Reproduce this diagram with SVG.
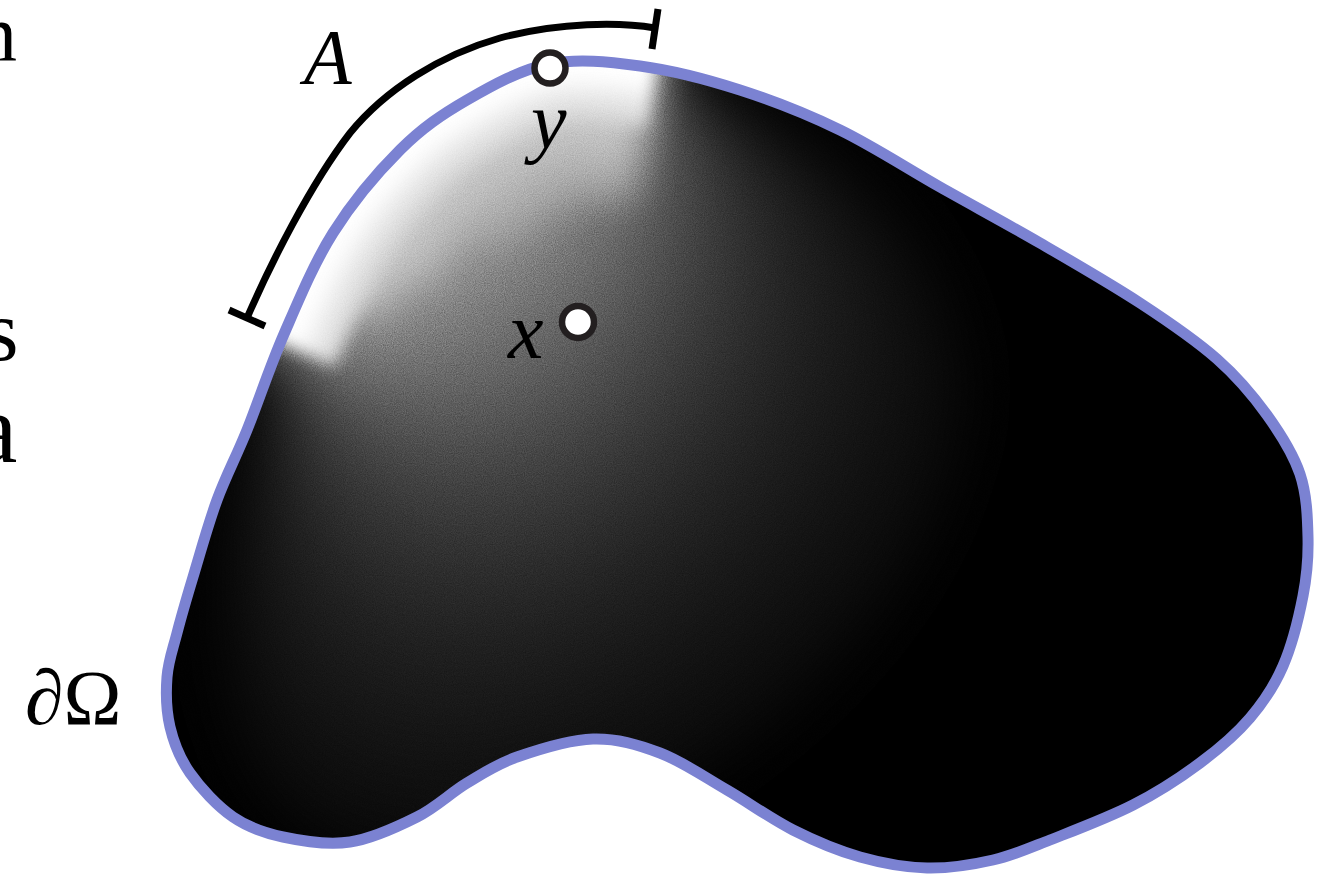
<svg xmlns="http://www.w3.org/2000/svg" width="1332" height="877" viewBox="0 0 1332 877">
<style>
.outline{fill:none;stroke:#7b82d2;stroke-width:11}
.pt{fill:#fff;stroke:#231f20;stroke-width:6.5}
.lbl{font-family:"Liberation Serif","DejaVu Serif",serif;fill:#000}
.it{font-style:italic}
.brk{fill:none;stroke:#000;stroke-width:7}
.band{fill:none;stroke-linecap:butt;stroke-linejoin:round}
</style>
<defs>
<path id="blobPath" d="M549,64 C577.8,58.3 608.2,61.7 640,66 C671.8,70.3 706.7,79.3 740,90 C773.3,100.7 806.7,113.8 840,130 C873.3,146.2 906.7,168.2 940,187 C973.3,205.8 1006.7,223.7 1040,243 C1073.3,262.3 1110.5,283.7 1140,303 C1169.5,322.3 1195.8,340.3 1217,359 C1238.2,377.7 1253.2,395.8 1267,415 C1280.8,434.2 1293.2,453.7 1300,474 C1306.8,494.3 1307.5,516.7 1308,537 C1308.5,557.3 1307.2,574.5 1303,596 C1298.8,617.5 1291.8,645.7 1283,666 C1274.2,686.3 1263.8,701.8 1250,718 C1236.2,734.2 1219.5,748.5 1200,763 C1180.5,777.5 1158,792.2 1133,805 C1108,817.8 1073.3,830.8 1050,840 C1026.7,849.2 1013.5,855.3 993,860 C972.5,864.7 949.2,868.5 927,868 C904.8,867.5 882.3,863.3 860,857 C837.7,850.7 815.2,841.2 793,830 C770.8,818.8 749.2,802.8 727,790 C704.8,777.2 682.3,761.5 660,753 C637.7,744.5 616.8,738.3 593,739 C569.2,739.7 538,749.7 517,757 C496,764.3 483.7,773 467,783 C450.3,793 436.5,807.2 417,817 C397.5,826.8 372.3,838.7 350,842 C327.7,845.3 302.5,841.2 283,837 C263.5,832.8 248.5,827.7 233,817 C217.5,806.3 200.5,788 190,773 C179.5,758 173.8,743 170,727 C166.2,711 165.8,692.7 167,677 C168.2,661.3 172.7,649.7 177,633 C181.3,616.3 186.3,599.2 193,577 C199.7,554.8 208,524.5 217,500 C226,475.5 235.8,457.7 247,430 C258.2,402.3 269.7,366.8 284,334 C298.3,301.2 313.7,263.7 333,233 C352.3,202.3 377.7,172.2 400,150 C422.3,127.8 442.2,114.3 467,100 C491.8,85.7 520.2,69.7 549,64 Z"/>
<path id="arcTail" d="M400,150 C422.3,127.8 442.2,114.3 467,100 C491.8,85.7 520.2,69.7 549,64 C577.8,58.3 608.2,61.7 640,66 L655,68.5"/>
<path id="arcA" d="M280,343 L284,334 C298.3,301.2 313.7,263.7 333,233 C352.3,202.3 377.7,172.2 400,150 C422.3,127.8 442.2,114.3 467,100 C491.8,85.7 520.2,69.7 549,64 C577.8,58.3 608.2,61.7 640,66 L655,68.5"/>
<path id="arcC" d="M306.6,282.7 C314.7,265.4 323.4,248.4 333,233 C352.3,202.3 377.7,172.2 400,150 C422.3,127.8 442.2,114.3 467,100 C491.8,85.7 520.2,69.7 549,64 C577.8,58.3 608.2,61.7 640,66 L655,68.5"/>
<path id="arcD" d="M333,233 C352.3,202.3 377.7,172.2 400,150 C422.3,127.8 442.2,114.3 467,100 C491.8,85.7 520.2,69.7 549,64 C577.8,58.3 608.2,61.7 640,66 L655,68.5"/>
<clipPath id="blobClip"><use href="#blobPath"/></clipPath>
<filter id="wide" filterUnits="userSpaceOnUse" x="-300" y="-300" width="1932" height="1477" color-interpolation-filters="sRGB"><feGaussianBlur stdDeviation="32"/></filter>
<filter id="mid" filterUnits="userSpaceOnUse" x="-300" y="-300" width="1932" height="1477" color-interpolation-filters="sRGB"><feGaussianBlur stdDeviation="18"/></filter>
<filter id="soft" filterUnits="userSpaceOnUse" x="-300" y="-300" width="1932" height="1477" color-interpolation-filters="sRGB"><feGaussianBlur stdDeviation="8"/></filter>
<filter id="grain" filterUnits="userSpaceOnUse" x="0" y="0" width="1332" height="877" color-interpolation-filters="sRGB"><feTurbulence type="fractalNoise" baseFrequency="0.9" numOctaves="2" seed="4"/><feColorMatrix type="matrix" values="1 0 0 0 0 1 0 0 0 0 1 0 0 0 0 0 0 0 0 1"/></filter>
</defs>
<rect width="1332" height="877" fill="#fff"/>
<g id="domain">
 <g clip-path="url(#blobClip)">
  <g filter="url(#wide)">
   <rect x="-250" y="-250" width="1832" height="1377" fill="#000"/>
   <path fill="#0c0c0c" d="M280,343 L225,318 L270,-20 L665,-20 L655,68 C1631.1,437.6 -94.4,1483 280,343 Z"/>
   <path fill="#131313" d="M280,343 L225,318 L270,-20 L665,-20 L655,68 C1450.2,422.1 28,1311 280,343 Z"/>
   <path fill="#1a1a1a" d="M280,343 L225,318 L270,-20 L665,-20 L655,68 C1312.5,406.7 116,1176.9 280,343 Z"/>
   <path fill="#222222" d="M280,343 L225,318 L270,-20 L665,-20 L655,68 C1178.2,396 209.7,1049.5 280,343 Z"/>
   <path fill="#2a2a2a" d="M280,343 L225,318 L270,-20 L665,-20 L655,68 C1072.1,382.2 275.8,943 280,343 Z"/>
   <path fill="#333333" d="M280,343 L225,318 L270,-20 L665,-20 L655,68 C976.7,373.3 339.7,849.4 280,343 Z"/>
   <path fill="#3c3c3c" d="M280,343 L225,318 L270,-20 L665,-20 L655,68 C903.9,364.5 382.8,760.5 280,343 Z"/>
   <path fill="#464646" d="M280,343 L225,318 L270,-20 L665,-20 L655,68 C830.9,350.7 422.5,684.5 280,343 Z"/>
   <path fill="#505050" d="M280,343 L225,318 L270,-20 L665,-20 L655,68 C773.7,337.1 447,616 280,343 Z"/>
   <path fill="#5a5a5a" d="M280,343 L225,318 L270,-20 L665,-20 L655,68 C727.1,326.2 462.7,557.9 280,343 Z"/>
   <path fill="#646464" d="M280,343 L225,318 L270,-20 L665,-20 L655,68 C687.8,315.8 469.5,506 280,343 Z"/>
   <path fill="#6e6e6e" d="M280,343 L225,318 L270,-20 L665,-20 L655,68 C652.8,288 466.8,459.2 280,343 Z"/>
   <path fill="#787878" d="M280,343 L225,318 L270,-20 L665,-20 L655,68 C625.4,260.7 459.6,419.2 280,343 Z"/>
   <path fill="#828282" d="M280,343 L225,318 L270,-20 L665,-20 L655,68 C605,232.6 446.8,385 280,343 Z"/>
   <path fill="#8c8c8c" d="M280,343 L225,318 L270,-20 L665,-20 L655,68 C591.5,203.9 429.4,356.8 280,343 Z"/>
   <path fill="#969696" d="M280,343 L225,318 L270,-20 L665,-20 L655,68 C582.9,178.6 411.7,334.7 280,343 Z"/>
   <path fill="#a0a0a0" d="M280,343 L225,318 L270,-20 L665,-20 L655,68 C579.2,154.5 392.2,318.2 280,343 Z"/>
  </g>
  <g filter="url(#mid)">
   <use href="#arcTail" class="band" stroke="#a8a8a8" stroke-width="270"/>
   <use href="#arcD" class="band" stroke="#b8b8b8" stroke-width="210"/>
   <use href="#arcC" class="band" stroke="#c8c8c8" stroke-width="160"/>
  </g>
  <g filter="url(#soft)">
   <use href="#arcA" class="band" stroke="#d8d8d8" stroke-width="120"/>
   <use href="#arcA" class="band" stroke="#e8e8e8" stroke-width="90"/>
   <use href="#arcA" class="band" stroke="#f6f6f6" stroke-width="60"/>
   <use href="#arcA" class="band" stroke="#ffffff" stroke-width="36"/>
  </g>
  <rect x="100" y="0" width="1232" height="877" filter="url(#grain)" style="mix-blend-mode:overlay" opacity="0.3"/>
 </g>
 <use href="#blobPath" class="outline"/>
</g>
<g id="bracketA">
 <path class="brk" d="M247,318 C270,265 310,185 350,133 C385,90 440,55 500,38 C560,22 620,22 655,28"/>
 <line class="brk" x1="229" y1="310" x2="265" y2="326"/>
 <line class="brk" x1="658" y1="9" x2="652" y2="49"/>
 <text class="lbl it" x="304" y="83" font-size="78">A</text>
</g>
<g id="point-y">
 <circle class="pt" cx="550" cy="68" r="15.5"/>
 <text class="lbl it" x="531" y="148" font-size="80">y</text>
</g>
<g id="point-x">
 <circle class="pt" cx="578" cy="322" r="16"/>
 <text class="lbl it" x="508" y="358" font-size="80">x</text>
</g>
<g id="label-boundary">
 <text class="lbl" x="25" y="724" font-size="78">∂Ω</text>
</g>
<g id="margin-text">
 <text class="lbl" x="-23" y="60" font-size="80">n</text>
 <text class="lbl" x="-15" y="360" font-size="86">s</text>
 <text class="lbl" x="-27" y="462" font-size="100">a</text>
</g>
</svg>
